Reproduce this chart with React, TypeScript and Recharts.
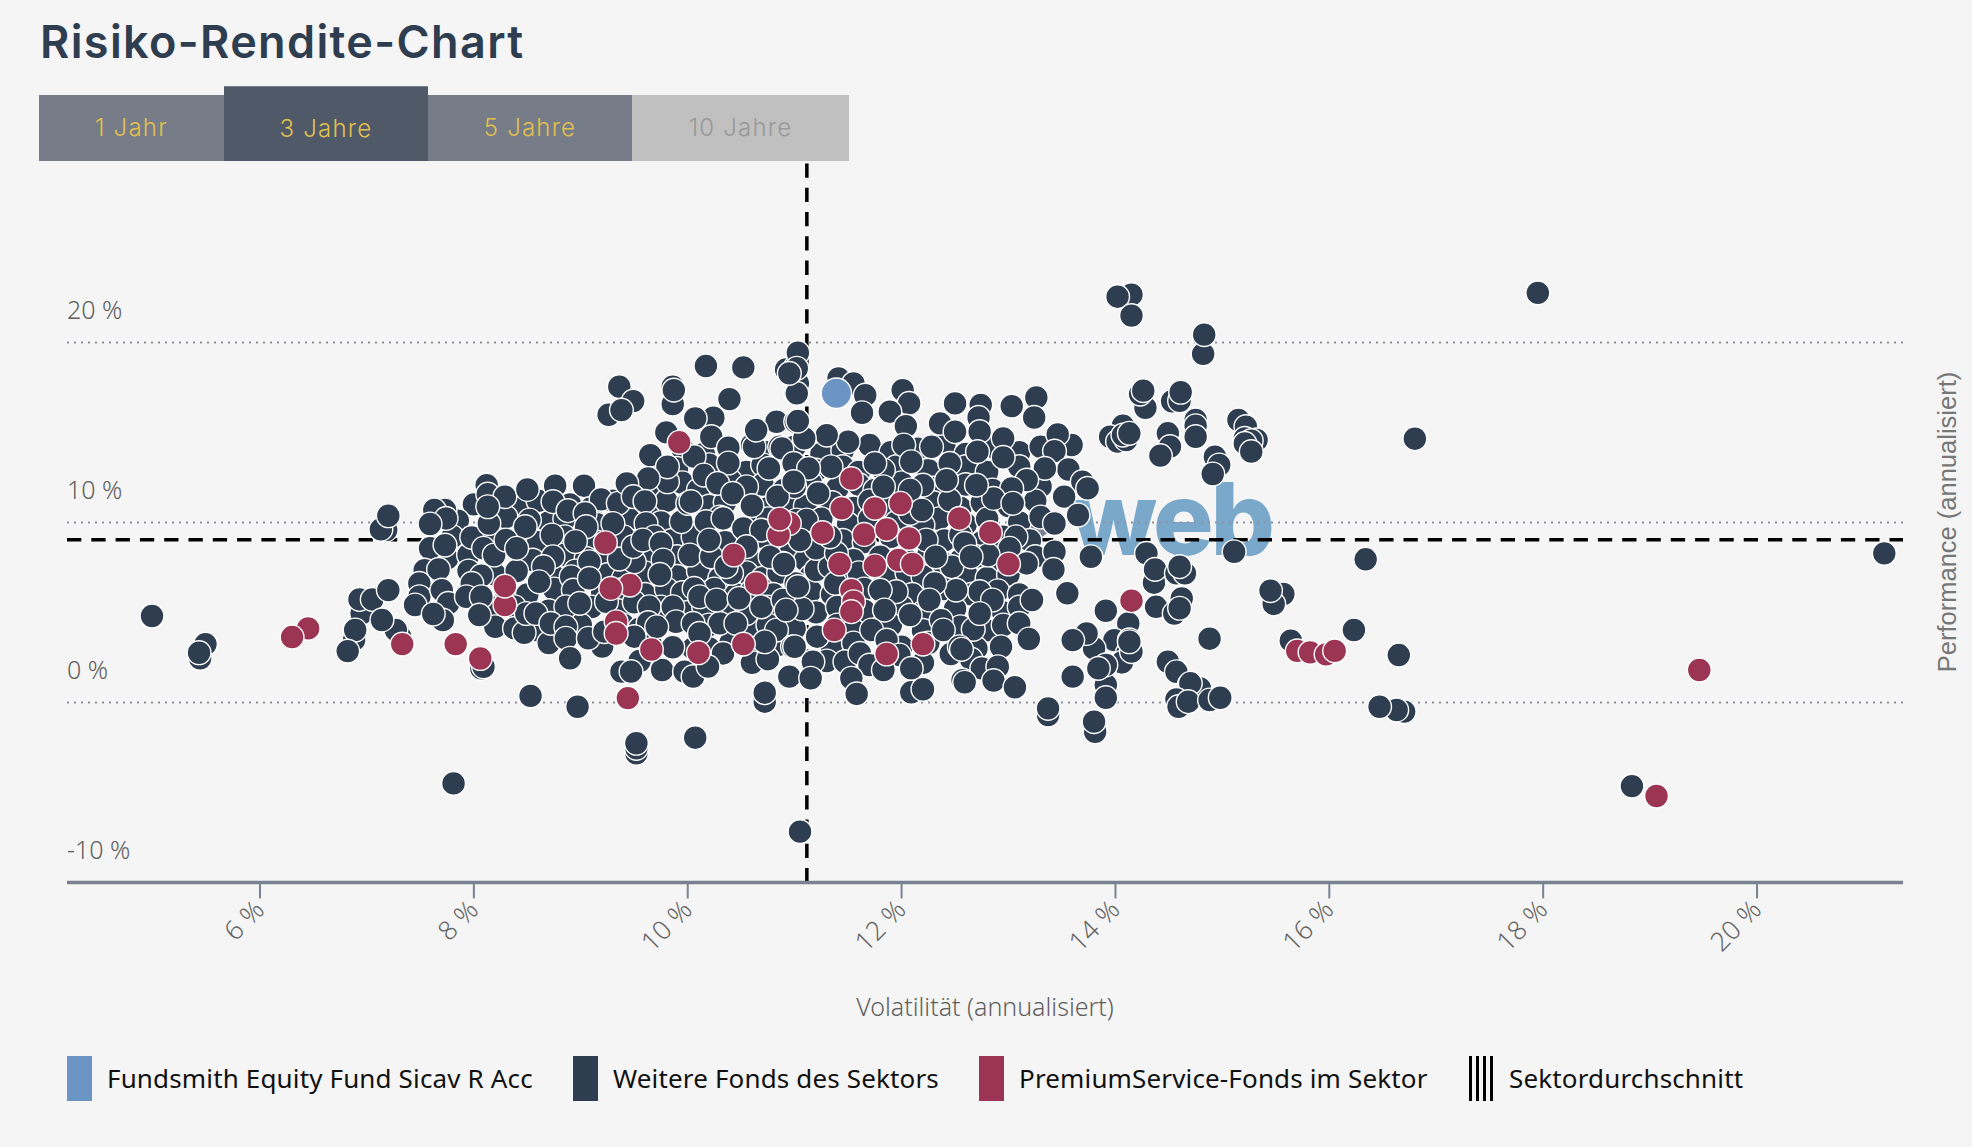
import { CartesianGrid, Label, ReferenceLine, Scatter, ScatterChart, XAxis, YAxis } from 'recharts';

// [volatility %, performance %] of funds mostly covered by others, estimated from the arcs that show
const coveredFunds: [number, number][] = [
  [9.95, 14.1], [10.15, 13.8], [10.6, 14.3], [10.75, 13.9], [11.0, 14.2], [11.25, 13.8], [11.45, 14.0], [11.7, 14.3], [11.9, 13.9], [12.15, 14.1], [12.4, 14.3], [12.6, 13.8], [12.85, 14.2], [13.1, 13.9], [13.3, 14.2],
  [9.9, 13.0], [10.2, 13.2], [10.55, 12.8], [10.7, 13.2], [11.2, 12.9], [11.45, 13.1], [11.6, 12.8], [11.95, 13.1], [12.25, 12.9], [12.6, 13.1], [12.8, 12.8], [13.1, 13.1],
  [9.7, 11.9], [9.95, 12.2], [10.1, 11.8], [10.4, 12.3], [10.7, 12.1], [10.9, 11.8], [11.15, 12.2], [11.4, 11.9], [11.6, 12.1], [11.75, 11.8], [12.0, 12.2], [12.3, 11.9], [12.6, 12.1], [12.85, 11.8], [13.3, 12.0],
  [8.0, 11.0], [8.45, 10.8], [8.6, 11.2], [8.9, 11.0], [9.1, 10.8], [9.3, 11.2], [9.65, 10.9], [9.8, 11.2], [10.2, 10.9], [10.35, 11.1], [10.75, 10.8], [10.95, 11.2], [11.1, 10.9], [11.35, 11.1], [11.55, 10.8], [11.7, 11.2], [11.9, 10.9], [12.3, 11.1], [12.55, 10.8], [12.75, 11.1], [13.0, 10.9], [13.25, 11.2],
  [7.85, 10.1], [8.3, 10.3], [8.7, 10.0], [8.85, 10.2], [9.15, 9.9], [9.45, 10.2], [9.75, 10.0], [10.3, 10.3], [10.6, 9.9], [10.75, 10.2], [10.9, 9.9], [11.25, 10.2], [11.5, 9.9], [11.7, 10.2], [11.95, 10.0], [12.35, 10.2], [12.6, 9.9], [12.8, 10.2], [13.1, 10.0], [13.3, 10.3],
  [7.8, 9.2], [8.15, 9.0], [8.5, 9.2], [8.6, 8.9], [8.85, 9.2], [9.15, 8.9], [9.4, 9.2], [9.85, 9.0], [10.05, 9.2], [10.35, 8.9], [10.7, 9.2], [10.9, 8.9], [11.15, 9.2], [11.45, 9.0], [11.65, 8.9], [11.9, 9.2], [12.4, 9.0], [12.55, 9.3], [12.75, 8.9], [12.95, 9.2], [13.2, 9.0],
  [7.75, 8.0], [7.95, 8.2], [8.55, 7.9], [8.85, 8.2], [9.05, 8.0], [9.25, 8.2], [9.6, 7.9], [9.9, 8.1], [10.15, 7.8], [10.45, 8.1], [10.6, 7.8], [10.95, 8.2], [11.1, 7.9], [11.3, 8.2], [11.55, 7.9], [11.8, 8.1], [12.05, 7.9], [12.25, 8.2], [12.55, 7.9], [12.7, 8.1], [12.95, 7.8], [13.25, 8.1],
  [7.95, 7.3], [8.2, 7.1], [8.4, 7.3], [8.75, 7.0], [8.95, 7.3], [9.25, 7.1], [9.4, 6.9], [9.6, 7.2], [9.9, 7.0], [10.1, 7.3], [10.3, 6.9], [10.55, 7.2], [10.7, 6.9], [10.85, 7.2], [11.15, 7.0], [11.4, 6.9], [11.6, 7.2], [11.85, 7.0], [12.05, 7.2], [12.2, 7.0], [12.6, 7.2], [12.8, 6.9], [13.0, 7.1],
  [8.3, 6.2], [8.5, 6.0], [8.75, 6.3], [9.2, 6.1], [9.4, 6.3], [9.6, 6.0], [9.8, 6.3], [9.95, 6.1], [10.25, 6.3], [10.45, 6.0], [10.6, 6.2], [10.8, 6.0], [11.15, 6.2], [11.35, 6.0], [11.65, 6.3], [12.1, 6.0], [12.4, 6.3], [12.65, 6.0], [12.9, 6.2], [13.1, 6.0],
  [8.15, 5.3], [8.7, 5.1], [9.1, 5.3], [9.35, 5.1], [9.75, 5.3], [10.0, 5.0], [10.15, 5.3], [10.4, 5.1], [10.75, 5.3], [11.2, 5.0], [11.4, 5.3], [11.65, 5.1], [12.0, 5.3], [12.2, 5.0], [12.5, 5.2], [12.95, 5.0], [13.1, 5.3],
  [8.2, 4.2], [8.6, 4.0], [9.0, 4.3], [9.25, 4.0], [9.4, 4.3], [9.55, 4.1], [10.2, 4.3], [10.6, 4.0], [10.75, 4.3], [11.0, 4.1], [11.4, 4.3], [11.55, 4.0], [11.9, 4.3], [12.2, 4.0], [12.55, 4.2], [12.8, 4.0], [12.95, 4.3],
  [8.7, 3.3], [9.2, 3.1], [9.65, 3.3], [10.05, 3.0], [10.4, 3.3], [10.6, 3.0], [10.85, 3.2], [11.35, 3.0], [11.55, 3.3], [12.0, 3.1], [12.25, 3.3], [12.7, 3.0],
  [9.55, 2.3], [10.6, 2.2], [10.75, 2.4], [11.3, 2.3], [12.2, 2.2], [12.65, 2.4],
];

// [volatility %, performance %] of the funds on top
const otherFunds: [number, number][] = [
  [4.99, 4.8], [5.49, 3.24], [5.44, 2.45], [5.43, 2.76], [7.18, 9.58], [7.13, 9.61], [7.2, 10.37],
  [6.95, 4.95], [6.93, 5.72], [7.05, 5.72], [7.2, 6.24], [6.88, 3.47], [6.89, 4.02], [6.82, 2.85], [7.31, 3.65], [7.27, 4.02], [7.14, 4.58],
  [7.63, 10.6], [7.59, 9.95], [7.6, 8.56], [7.55, 7.26], [7.65, 7.35], [7.51, 6.43], [7.45, 5.5], [7.49, 5.87], [7.62, 4.95],
  [10.17, 18.69], [10.52, 18.61], [10.39, 16.85], [9.36, 17.54], [9.49, 16.74], [9.26, 15.98], [9.38, 16.24],
  [9.86, 17.54], [9.86, 16.57], [9.87, 17.35], [10.92, 18.5], [11.01, 18.65], [11.01, 17.17], [11.03, 17.72],
  [10.24, 15.82], [10.07, 15.78], [10.22, 14.76], [9.8, 15.0], [10.38, 14.15], [10.38, 13.3], [9.65, 13.74], [10.06, 13.65],
  [9.81, 12.26], [9.81, 13.09], [9.63, 12.44], [10.15, 12.63], [10.83, 15.59], [11.01, 15.59], [10.62, 14.2], [10.64, 15.13], [10.86, 14.2],
  [10.76, 13.0], [10.98, 13.28], [10.28, 12.17], [10.55, 11.98], [10.42, 11.61], [11.0, 11.98], [10.84, 11.43], [10.6, 10.93],
  [8.12, 12.07], [8.13, 11.57], [8.29, 11.43], [8.5, 11.83], [8.76, 12.04], [9.03, 12.04], [8.74, 11.15], [8.88, 10.65], [9.19, 11.28], [9.35, 11.06],
  [9.04, 10.5], [9.05, 9.76], [9.3, 9.94], [9.43, 12.17], [9.49, 11.43], [9.6, 11.17], [9.61, 9.94], [9.69, 9.2], [9.94, 10.04], [10.0, 11.06], [10.03, 11.15],
  [10.17, 10.04], [10.33, 10.22], [10.52, 9.67], [10.69, 9.57], [7.73, 10.69], [7.63, 10.69], [7.74, 10.22], [7.59, 9.91], [7.59, 8.56], [7.73, 8.74],
  [7.98, 9.17], [8.14, 9.94], [8.13, 10.87], [8.52, 10.13], [8.48, 9.76], [8.09, 8.56], [8.19, 8.19], [8.3, 9.02], [8.4, 8.56], [8.73, 9.3], [8.95, 8.94],
  [8.74, 8.09], [8.65, 7.54], [9.08, 7.81], [8.61, 6.7], [9.5, 7.81], [9.36, 7.96], [9.49, 8.65], [9.58, 9.02], [9.75, 8.83], [9.77, 7.91], [10.02, 8.19],
  [10.22, 8.09], [10.06, 6.33], [9.74, 7.11], [10.89, 7.72], [10.41, 7.17], [10.36, 7.54], [10.77, 8.09], [11.01, 6.61], [10.55, 8.65], [10.2, 9.02],
  [7.54, 7.35], [7.67, 7.39], [7.49, 6.61], [7.49, 5.87], [7.7, 6.24], [7.76, 5.5], [7.45, 5.41], [7.71, 4.57], [7.62, 4.91],
  [8.07, 7.04], [7.98, 6.61], [7.93, 5.87], [8.07, 5.87], [8.05, 4.85], [8.38, 5.31], [8.38, 4.11], [8.47, 3.87], [8.49, 4.94], [8.58, 4.94],
  [8.91, 6.98], [8.93, 6.24], [9.08, 6.89], [8.86, 5.31], [8.99, 5.5], [8.72, 4.39], [8.86, 4.2], [8.86, 3.56], [9.07, 3.56], [9.22, 3.93], [9.24, 5.59],
  [9.5, 5.56], [9.64, 5.31], [9.63, 4.43], [9.86, 5.31], [9.89, 4.48], [9.5, 3.65], [9.71, 4.2], [9.86, 3.06], [10.11, 5.87], [10.3, 4.39], [10.27, 5.69],
  [10.55, 4.94], [10.48, 5.78], [10.83, 4.02], [10.72, 3.37], [10.2, 3.0], [10.33, 2.72], [10.98, 3.09], [10.69, 5.31], [10.89, 5.69], [10.05, 4.39], [10.11, 3.83], [10.45, 4.39],
  [8.9, 2.45], [9.38, 1.71], [9.47, 1.71], [9.76, 1.8], [9.97, 1.71], [10.05, 1.43], [10.19, 1.99], [10.95, 1.43], [8.07, 1.89], [8.09, 1.98],
  [8.53, 0.36], [8.97, -0.24], [10.72, 0.04], [10.72, 0.54], [9.52, -2.83], [9.52, -2.55], [9.52, -2.27], [10.07, -1.96], [7.81, -4.5],
  [11.03, 19.43], [11.02, 18.56], [11.02, 17.17], [10.95, 18.28], [11.41, 18.0], [11.55, 17.72], [11.66, 17.07], [11.63, 16.09], [12.01, 17.35], [12.07, 16.61],
  [11.89, 16.15], [12.04, 15.35], [12.02, 14.3], [12.28, 14.2], [12.5, 16.61], [12.74, 16.52], [13.03, 16.46], [13.26, 16.94], [12.36, 15.5], [12.72, 15.83],
  [12.5, 15.04], [12.73, 15.04], [12.95, 14.67], [13.24, 15.83], [13.59, 14.3], [13.46, 14.89], [13.43, 13.96], [12.71, 13.93], [12.95, 13.61], [12.45, 13.28],
  [12.09, 13.37], [11.83, 12.91], [11.5, 14.48], [11.3, 14.85], [11.09, 14.67], [11.03, 15.63], [10.88, 14.11], [10.99, 13.28], [11.34, 13.09], [11.13, 13.0],
  [11.75, 13.28], [11.22, 11.61], [10.99, 12.26], [11.02, 10.13], [11.11, 10.13], [13.56, 12.94], [13.34, 13.0], [13.69, 12.26], [13.74, 11.89], [13.17, 12.35],
  [13.03, 11.89], [13.52, 11.43], [13.65, 10.41], [13.43, 9.94], [12.86, 11.33], [12.7, 12.07], [12.45, 11.24], [12.42, 12.35], [12.2, 12.07], [12.08, 11.8],
  [11.83, 11.98], [12.2, 9.85], [12.59, 8.83], [13.04, 11.06], [13.07, 9.2], [13.01, 8.56], [13.43, 8.37], [13.42, 7.39], [13.17, 7.72], [12.81, 8.19],
  [12.39, 7.72], [12.47, 7.54], [12.65, 8.09], [13.77, 8.09], [14.29, 8.28], [14.36, 6.65], [14.37, 7.39], [14.38, 5.31], [14.55, 4.94], [14.57, 7.17], [14.65, 7.17], [14.6, 7.54],
  [14.62, 5.78], [14.6, 5.23], [14.12, 4.39], [13.91, 5.09], [13.99, 3.46], [13.8, 3.0], [13.73, 3.83], [13.6, 3.46], [14.11, 2.72], [14.06, 2.22], [13.9, 1.98],
  [14.49, 2.26], [14.57, 1.7], [13.6, 1.43], [13.22, 5.69], [13.55, 6.06], [13.1, 4.39], [13.19, 3.52], [12.67, 4.06], [12.73, 6.15], [12.85, 5.69], [12.73, 4.94],
  [12.51, 6.24], [12.31, 6.61], [12.26, 5.69], [12.08, 4.85], [11.95, 6.15], [11.8, 6.24], [11.84, 5.13], [12.37, 4.57], [12.39, 4.02], [11.07, 5.19], [11.2, 7.35],
  [11.33, 7.54], [10.9, 7.69], [11.03, 6.43], [10.92, 5.13], [11.21, 3.65], [11.0, 3.09], [11.17, 2.26], [11.47, 2.26], [11.61, 2.72], [11.7, 2.07], [11.72, 4.02],
  [11.86, 3.46], [11.98, 2.63], [12.09, 1.89], [12.46, 2.69], [12.75, 1.89], [12.93, 3.09], [12.57, 1.24], [13.06, 0.87], [12.54, 3.09], [11.38, 6.61], [11.2, 8.56],
  [11.05, 9.02], [11.39, 8.28], [11.33, 9.2], [12.08, 10.5], [12.19, 10.69], [12.23, 9.02], [12.32, 8.09],
  [14.15, 22.65], [14.02, 22.54], [14.15, 21.49], [14.82, 19.36], [14.83, 20.43], [14.28, 16.37], [14.23, 17.13], [14.26, 17.32], [14.53, 16.73], [14.6, 16.76], [14.61, 17.23],
  [14.75, 15.69], [14.75, 15.37], [14.75, 14.76], [14.49, 14.95], [14.07, 15.37], [13.95, 14.76], [14.02, 14.49], [14.1, 14.58], [14.07, 14.85], [14.13, 14.95],
  [15.15, 15.69], [15.22, 15.32], [15.32, 14.58], [15.21, 14.67], [15.27, 14.54], [15.21, 14.39], [15.27, 13.93], [14.51, 14.21], [14.42, 13.71], [14.93, 13.65], [14.97, 13.19], [14.91, 12.69],
  [14.88, 3.54], [15.11, 8.37], [16.34, 7.95], [15.57, 6.02], [15.48, 5.47], [15.45, 6.21], [15.64, 3.43], [16.23, 4.02], [16.65, 2.63],
  [13.91, 0.97], [13.91, 2.08], [13.84, 1.89], [14.13, 3.47], [14.15, 2.82], [14.13, 3.37], [14.69, 0.97], [14.79, 0.78], [14.7, 1.06], [14.57, 0.17], [14.59, -0.24], [14.68, 0.04], [14.88, 0.13], [14.98, 0.26],
  [13.91, 0.26], [13.81, -1.63], [13.8, -1.07], [13.37, -0.7], [13.37, -0.33], [16.7, -0.51], [16.63, -0.42], [16.47, -0.24],
  [11.15, 1.34], [11.53, 1.34], [11.58, 0.47], [11.83, 1.8], [12.09, 0.56], [12.2, 0.73], [12.56, 2.95], [12.59, 1.12], [12.9, 1.98], [12.86, 1.21], [13.06, 0.84],
  [11.05, -7.18], [18.83, -4.65], [21.19, 8.28], [17.95, 22.75], [16.8, 14.65],
];

const premiumFunds: [number, number][] = [
  [9.92, 14.45], [9.23, 8.87], [8.29, 5.41], [8.29, 6.46], [9.46, 6.52], [9.28, 6.33], [9.33, 4.48], [9.33, 3.83], [7.83, 3.24], [8.06, 2.44],
  [9.66, 2.94], [10.1, 2.76], [10.52, 3.24], [10.43, 8.19], [10.64, 6.61], [10.95, 9.94], [10.85, 9.3], [10.86, 10.19],
  [11.53, 12.43], [11.44, 10.78], [11.75, 10.78], [11.99, 11.06], [12.54, 10.22], [12.83, 9.43], [11.26, 9.43], [11.65, 9.33], [11.86, 9.61], [12.07, 9.11],
  [11.42, 7.69], [11.75, 7.59], [11.97, 7.91], [12.1, 7.69], [13.0, 7.69], [11.53, 6.24], [11.55, 5.59], [11.53, 5.04], [11.37, 4.02], [12.2, 3.24], [11.86, 2.69],
  [14.15, 5.65], [15.7, 2.86], [15.82, 2.78], [15.97, 2.67], [16.05, 2.86], [9.44, 0.24], [6.45, 4.11], [6.3, 3.63], [7.33, 3.24], [19.46, 1.8], [19.06, -5.2],
];

const focusFund: [number, number][] = [[11.39, 17.18]];

const xDomain = [4.195, 21.365];
const yDomain = [-10, 30];
const xTicks = [6, 8, 10, 12, 14, 16, 18, 20];
const yTicks = [-10, 0, 10, 20];
const gridLevels = [0, 10, 20];
const sectorVolatility = 11.114;
const sectorPerformance = 9.04;

const tabs = [
  { label: '1 Jahr', left: 39, width: 185 },
  { label: '3 Jahre', left: 224, width: 204, active: true },
  { label: '5 Jahre', left: 428, width: 204 },
  { label: '10 Jahre', left: 632, width: 217, disabled: true },
];

const legendItems = [
  { label: 'Fundsmith Equity Fund Sicav R Acc', color: '#6b95c4', left: 67, textLeft: 107 },
  { label: 'Weitere Fonds des Sektors', color: '#2e3d50', left: 573, textLeft: 613 },
  { label: 'PremiumService-Fonds im Sektor', color: '#9b3553', left: 979, textLeft: 1019 },
  { label: 'Sektordurchschnitt', left: 1469, textLeft: 1509 },
];

const toRows = (rows: [number, number][]) => rows.map(([x, y]) => ({ x, y }));

const NOTE_FONT = '"Noto Sans", sans-serif';
const ARIAL_FONT = '"Liberation Sans", Arial, sans-serif';
const HEAD_FONT = 'Inter, sans-serif';

function fundDot(fill: string, r: number) {
  return (props: any) => <circle cx={props.cx} cy={props.cy} r={r} fill={fill} stroke="#fff" strokeWidth={1.4} />;
}

function XTick({ x, y, payload }: any) {
  return (
    <text
      x={x + 6}
      y={y + 11}
      transform={`rotate(-45 ${x + 6} ${y + 11})`}
      textAnchor="end"
      fontFamily={NOTE_FONT}
      fontWeight={300}
      fontSize={26.5}
      fill="#666"
    >
      {payload.value} %
    </text>
  );
}

function YTick({ y, payload }: any) {
  return (
    <text x={67} y={y - 23} fontFamily={NOTE_FONT} fontWeight={300} fontSize={25} fill="#5f5f5f">
      {payload.value} %
    </text>
  );
}

export default function App() {
  return (
    <div style={{ position: 'fixed', left: 0, top: 0, width: 1972, height: 1147, background: '#f5f5f5', overflow: 'hidden' }}>
      <div style={{ position: 'absolute', left: 40, top: 14, fontFamily: HEAD_FONT, fontWeight: 600, fontSize: 45, letterSpacing: 1.35, lineHeight: '56px', color: '#2e3d50', whiteSpace: 'nowrap' }}>
        Risiko-Rendite-Chart
      </div>

      <svg width={1972} height={1147} style={{ position: 'absolute', left: 0, top: 0 }}>
        <path d="M1012 521 L1034 519 L1049 532 L1036 541 L1050 555 L1036 553 L1028 541 L1028 531 Z" fill="#7a8290" />
        <text x={1070} y={555} fontFamily={HEAD_FONT} fontWeight={800} fontSize={101} letterSpacing={-3} fill="#7aa8cb">web</text>
      </svg>

      <div style={{ position: 'absolute', left: 0, top: 0 }}>
        <ScatterChart width={1972} height={1147} margin={{ top: 162.4, right: 69, bottom: 204.6, left: 66 }}>
          <CartesianGrid vertical={false} horizontalValues={gridLevels} stroke="#8f8fa3" strokeWidth={2} strokeDasharray="2 5" />
          <XAxis
            type="number"
            dataKey="x"
            domain={xDomain}
            ticks={xTicks}
            allowDataOverflow
            height={60}
            tick={<XTick />}
            tickSize={16}
            tickLine={{ stroke: '#7a8291', strokeWidth: 2 }}
            axisLine={{ stroke: '#7a8291', strokeWidth: 3.5 }}
          >
            <Label value="Volatilität (annualisiert)" position="bottom" offset={56} fontFamily={NOTE_FONT} fontWeight={300} fontSize={25} fill="#5f5f5f" />
          </XAxis>
          <YAxis
            type="number"
            dataKey="y"
            domain={yDomain}
            ticks={yTicks}
            allowDataOverflow
            width={1}
            axisLine={false}
            tickLine={false}
            tick={<YTick />}
          />
          <ReferenceLine y={sectorPerformance} stroke="#000" strokeWidth={3.5} strokeDasharray="14.3 10" />
          <ReferenceLine x={sectorVolatility} stroke="#000" strokeWidth={3.5} strokeDasharray="14.3 10" />
          <Scatter data={toRows(coveredFunds)} shape={fundDot('#2e3d50', 11.9)} isAnimationActive={false} />
          <Scatter data={toRows(otherFunds)} shape={fundDot('#2e3d50', 11.9)} isAnimationActive={false} />
          <Scatter data={toRows(premiumFunds)} shape={fundDot('#9b3553', 11.9)} isAnimationActive={false} />
          <Scatter data={toRows(focusFund)} shape={fundDot('#6b95c4', 15.2)} isAnimationActive={false} />
        </ScatterChart>
      </div>

      {tabs.map((tab) => (
        <div
          key={tab.label}
          style={{
            position: 'absolute',
            left: tab.left,
            top: tab.active ? 86 : 95,
            width: tab.width,
            height: tab.active ? 75 : 66,
            boxSizing: 'border-box',
            paddingTop: tab.active ? 9 : 0,
            background: tab.disabled ? '#c0c0c0' : tab.active ? '#4f5968' : '#767c88',
            borderTop: tab.active ? '1px solid #7a8290' : undefined,
            color: tab.disabled ? '#999' : '#e2c04e',
            fontFamily: HEAD_FONT,
            fontWeight: 300,
            fontSize: 24,
            letterSpacing: 1.2,
            lineHeight: '66px',
            textAlign: 'center',
          }}
        >
          {tab.label}
        </div>
      ))}

      {legendItems.map((item) => (
        <div key={item.label}>
          {item.color ? (
            <div style={{ position: 'absolute', left: item.left, top: 1056, width: 25, height: 45, background: item.color }} />
          ) : (
            <div style={{ position: 'absolute', left: item.left, top: 1056, width: 25, height: 45, background: 'repeating-linear-gradient(90deg, #000 0 3px, #f5f5f5 3px 7px)' }} />
          )}
          <div style={{ position: 'absolute', left: item.textLeft, top: 1060, fontFamily: NOTE_FONT, fontSize: 26, letterSpacing: 0.15, lineHeight: '37px', color: '#111', whiteSpace: 'nowrap' }}>
            {item.label}
          </div>
        </div>
      ))}

      <div style={{ position: 'absolute', left: 1947, top: 522, transform: 'translate(-50%, -50%) rotate(-90deg)', fontFamily: ARIAL_FONT, fontSize: 25.5, color: '#777', whiteSpace: 'nowrap' }}>
        Performance (annualisiert)
      </div>
    </div>
  );
}
